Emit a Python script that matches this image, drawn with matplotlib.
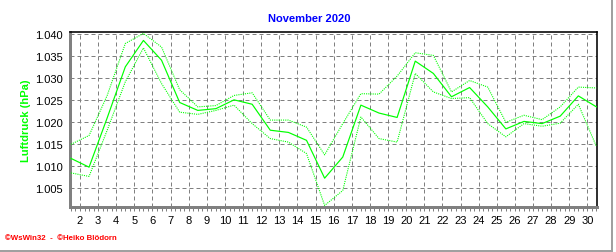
import matplotlib
matplotlib.use("Agg")
import matplotlib.pyplot as plt
from matplotlib.ticker import MultipleLocator, FixedLocator, FuncFormatter
from matplotlib.lines import Line2D
import numpy as np

plt.rcParams['font.family'] = ['Liberation Sans', 'DejaVu Sans']
plt.rcParams['lines.scale_dashes'] = False

days = list(range(1, 31))
mean_p = [1.0118, 1.0098, 1.0210, 1.0326, 1.0386, 1.0341, 1.0245, 1.0227, 1.0231, 1.0251,
          1.0241, 1.0182, 1.0177, 1.0159, 1.0073, 1.0121, 1.0239, 1.0221, 1.0211, 1.0339,
          1.0311, 1.0258, 1.0279, 1.0235, 1.0185, 1.0202, 1.0197, 1.0214, 1.0260, 1.0235]
max_p = [1.0150, 1.0170, 1.0261, 1.0379, 1.0402, 1.0371, 1.0274, 1.0235, 1.0238, 1.0261,
         1.0267, 1.0205, 1.0205, 1.0189, 1.0126, 1.0197, 1.0265, 1.0264, 1.0305, 1.0358,
         1.0352, 1.0269, 1.0295, 1.0280, 1.0200, 1.0216, 1.0206, 1.0235, 1.0280, 1.0278]
min_p = [1.0085, 1.0077, 1.0182, 1.0292, 1.0369, 1.0288, 1.0223, 1.0218, 1.0227, 1.0239,
         1.0197, 1.0163, 1.0155, 1.0129, 1.0011, 1.0045, 1.0212, 1.0163, 1.0155, 1.0311,
         1.0269, 1.0254, 1.0256, 1.0197, 1.0167, 1.0197, 1.0191, 1.0198, 1.0241, 1.0145]
xtick_labels = [str(d) for d in range(2, 31)]
ytick_vals = [1.005, 1.010, 1.015, 1.020, 1.025, 1.030, 1.035, 1.040]

W, H = 616, 253
fig = plt.figure(figsize=(W / 100, H / 100), dpi=100)
fig.patch.set_facecolor('white')
L, R, T, B = 70, 597, 33.3, 208
ax = fig.add_axes([L / W, 1 - B / H, (R - L) / W, (B - T) / H])

px = 0.72
xs = np.array(days) + 0.5
green = '#00ff00'
ax.plot(xs, max_p, color=green, lw=1.1 * px, linestyle=(0, (1.1 * px, 1.1 * px)), zorder=3)
ax.plot(xs, min_p, color=green, lw=1.1 * px, linestyle=(0, (1.1 * px, 1.1 * px)), zorder=3)
ax.plot(xs, mean_p, color=green, lw=1.2 * px, zorder=4)

ax.set_xlim(1.448, 30.53)
ax.set_ylim(1.00075, 1.04045)

ax.xaxis.set_major_locator(FixedLocator(range(2, 31)))
ax.set_xticklabels(xtick_labels)
ax.xaxis.set_minor_locator(MultipleLocator(0.25))
ax.yaxis.set_major_locator(FixedLocator(ytick_vals))
ax.yaxis.set_major_formatter(FuncFormatter(lambda v, p: f"{v:.3f}"))

ax.tick_params(axis='x', which='both', direction='out', length=3, width=1 * px,
               color='#808080', labelsize=8, pad=3)
ax.tick_params(axis='y', which='both', length=0, labelsize=8, pad=5)

ax.grid(True, which='major', color='#808080', linewidth=1 * px,
        linestyle=(0, (4 * px, 3 * px)))
ax.set_axisbelow(True)

for s in ['left', 'bottom']:
    ax.spines[s].set_color('#808080')
    ax.spines[s].set_linewidth(3 * px)
for s in ['top', 'right']:
    ax.spines[s].set_color('black')
    ax.spines[s].set_linewidth(1.6 * px)

fig.text(309 / W, 1 - 19 / H, 'November 2020', color='#0000ff', fontsize=8,
         fontweight='bold', ha='center', va='center')
fig.text(26.5 / W, 1 - 120.5 / H, 'Luftdruck (hPa)', color=green, fontsize=8,
         fontweight='bold', ha='center', va='center', rotation=90)
fig.text(5 / W, 1 - 238.3 / H, '\u00a9WsWin32  -  \u00a9Heiko Blödorn', color='#ff0000',
         fontsize=5.7, fontweight='bold', ha='left', va='center')

fig.add_artist(Line2D([611.5 / W, 611.5 / W], [1 - 251.5 / H, 1], color='#a0a0a0',
                      linewidth=2 * px, transform=fig.transFigure))
fig.add_artist(Line2D([0, 612 / W], [1 - 251.5 / H, 1 - 251.5 / H], color='#a0a0a0',
                      linewidth=2 * px, transform=fig.transFigure))

fig.savefig('out.png', dpi=100, facecolor='white')
